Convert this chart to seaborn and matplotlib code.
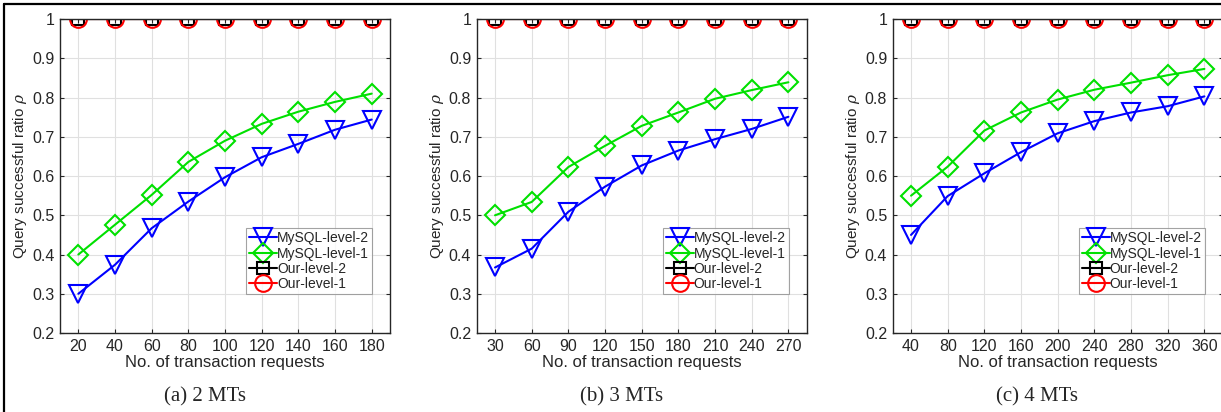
import matplotlib
matplotlib.use("Agg")
import matplotlib.pyplot as plt
from matplotlib.lines import Line2D
import seaborn as sns
import pandas as pd

# values
x_2mt = [20, 40, 60, 80, 100, 120, 140, 160, 180]
x_3mt = [30, 60, 90, 120, 150, 180, 210, 240, 270]
x_4mt = [40, 80, 120, 160, 200, 240, 280, 320, 360]

mysql_l2_2mt = [0.30, 0.374, 0.467, 0.535, 0.597, 0.648, 0.682, 0.718, 0.744]
mysql_l1_2mt = [0.40, 0.476, 0.552, 0.636, 0.690, 0.733, 0.764, 0.789, 0.810]
mysql_l2_3mt = [0.367, 0.415, 0.509, 0.573, 0.627, 0.665, 0.694, 0.720, 0.751]
mysql_l1_3mt = [0.50, 0.534, 0.623, 0.677, 0.728, 0.762, 0.797, 0.819, 0.839]
mysql_l2_4mt = [0.45, 0.549, 0.607, 0.661, 0.709, 0.740, 0.762, 0.778, 0.803]
mysql_l1_4mt = [0.55, 0.624, 0.716, 0.762, 0.795, 0.820, 0.838, 0.857, 0.873]
our_l2 = [1.0] * 9
our_l1 = [1.0] * 9

captions = ["(a) 2 MTs", "(b) 3 MTs", "(c) 4 MTs"]

sns.set_theme(style="whitegrid")
plt.rcParams['font.family'] = ['Liberation Sans', 'DejaVu Sans']
plt.rcParams['mathtext.fontset'] = 'dejavuserif'

fig = plt.figure(figsize=(12.21, 4.12), dpi=100)

panels = [
    (x_2mt, mysql_l2_2mt, mysql_l1_2mt, (10, 190), 60 / 1221),
    (x_3mt, mysql_l2_3mt, mysql_l1_3mt, (15, 285), 476.7 / 1221),
    (x_4mt, mysql_l2_4mt, mysql_l1_4mt, (20, 380), 892.7 / 1221),
]

styles = [
    ("MySQL-level-2", "v", "#0000ff", 12.5),
    ("MySQL-level-1", "D", "#00e000", 10),
    ("Our-level-2", "s", "black", 8),
    ("Our-level-1", "o", "#ff0000", 12),
]

for i, (xs, l2, l1, xlim, left) in enumerate(panels):
    ax = fig.add_axes([left, 0.1917, 0.2703, 0.762])
    df = pd.DataFrame({"x": xs, "MySQL-level-2": l2, "MySQL-level-1": l1,
                       "Our-level-2": our_l2, "Our-level-1": our_l1})
    for name, mk, col, ms in styles:
        sns.lineplot(data=df, x="x", y=name, ax=ax, label=name, color=col,
                     marker=mk, markersize=ms, markerfacecolor="none",
                     markeredgecolor=col, markeredgewidth=1.5, linewidth=1.5)
    ax.set_xlim(*xlim)
    ax.set_ylim(0.2, 1.0)
    ax.set_xticks(xs)
    ax.set_yticks([0.2, 0.3, 0.4, 0.5, 0.6, 0.7, 0.8, 0.9, 1.0])
    ax.set_yticklabels(["0.2", "0.3", "0.4", "0.5", "0.6", "0.7", "0.8", "0.9", "1"])
    ax.grid(True, color="0.88", linewidth=0.8)
    for sp in ax.spines.values():
        sp.set_color("0.15")
        sp.set_linewidth(1.0)
    ax.tick_params(direction="in", length=3, width=0.8, colors="0.15",
                   labelsize=11.5, top=True, right=True, bottom=True, left=True,
                   labeltop=False, labelright=False, pad=4)
    ax.set_xlabel("No. of transaction requests", fontsize=12, color="0.15", labelpad=1)
    ax.set_ylabel(r"Query successful ratio $\rho$", fontsize=11, color="0.15", labelpad=2)
    leg = ax.legend(loc="lower right", bbox_to_anchor=(0.945, 0.124), fontsize=10,
                    frameon=True, fancybox=False, borderpad=0.2, labelspacing=0.1,
                    handlelength=2.0, handletextpad=0.0, borderaxespad=0)
    leg.get_frame().set_edgecolor("0.55")
    leg.get_frame().set_linewidth(0.8)

cap_x = [205 / 1221, 622 / 1221, 1037 / 1221]
for cx, txt in zip(cap_x, captions):
    fig.text(cx, 1 - 397 / 412, txt, ha="center", va="center", fontsize=15,
             family=["Liberation Serif", "DejaVu Serif"])

# outer frame lines of the screenshot
fig.add_artist(Line2D([4 / 1221, 1.0], [1 - 4 / 412, 1 - 4 / 412], color="black", linewidth=1.6))
fig.add_artist(Line2D([4 / 1221, 4 / 1221], [0, 1 - 4 / 412], color="black", linewidth=1.6))

fig.savefig("out.png", dpi=100)
